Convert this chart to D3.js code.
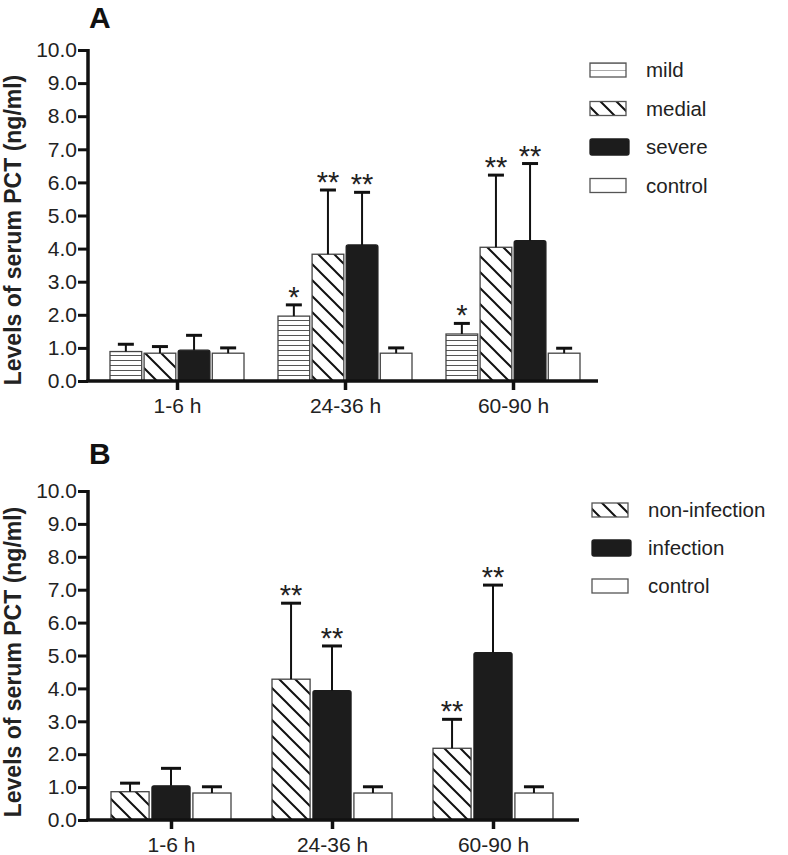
<!DOCTYPE html>
<html>
<head>
<meta charset="utf-8">
<script src="https://cdn.jsdelivr.net/npm/d3@7"></script>
<style>
  html, body { margin: 0; padding: 0; background: #fff; }
  svg { display: block; }
  text { font-family: "Liberation Sans", Arial, Helvetica, sans-serif; fill: #222; }
</style>
</head>
<body>
<svg id="chart" width="788" height="855"></svg>
<script>
// ---------- data ----------
const categories = ["1-6 h", "24-36 h", "60-90 h"];
const yTickValues = [0, 1, 2, 3, 4, 5, 6, 7, 8, 9, 10];
const yTickLabels = ["0.0", "1.0", "2.0", "3.0", "4.0", "5.0", "6.0", "7.0", "8.0", "9.0", "10.0"];
const yAxisTitle = "Levels of serum PCT (ng/ml)";

// Panel A
const seriesA = ["mild", "medial", "severe", "control"];
const meanA_mild    = [0.89, 1.96, 1.42];
const sdA_mild      = [0.22, 0.34, 0.32];
const starsA_mild   = ["", "*", "*"];
const meanA_medial  = [0.84, 3.83, 4.04];
const sdA_medial    = [0.20, 1.94, 2.18];
const starsA_medial = ["", "**", "**"];
const meanA_severe  = [0.93, 4.11, 4.24];
const sdA_severe    = [0.45, 1.59, 2.33];
const starsA_severe = ["", "**", "**"];
const meanA_control = [0.84, 0.84, 0.84];
const sdA_control   = [0.16, 0.16, 0.15];
const starsA_control = ["", "", ""];

// Panel B
const seriesB = ["non-infection", "infection", "control"];
const meanB_noninf  = [0.86, 4.28, 2.18];
const sdB_noninf    = [0.26, 2.31, 0.88];
const starsB_noninf = ["", "**", "**"];
const meanB_inf     = [1.04, 3.93, 5.09];
const sdB_inf       = [0.53, 1.36, 2.05];
const starsB_inf    = ["", "**", "**"];
const meanB_control = [0.82, 0.82, 0.82];
const sdB_control   = [0.19, 0.19, 0.19];
const starsB_control = ["", "", ""];

// ---------- styles per fill kind ----------
const fillKinds = {
  mild: "url(#hlines)",
  medial: "url(#hatch)",
  severe: "#1c1c1c",
  control: "#ffffff",
  "non-infection": "url(#hatch)",
  infection: "#1c1c1c"
};
const legendFill = {
  mild: "url(#hlinesL)",
  medial: "url(#hatchL)",
  severe: "#1c1c1c",
  control: "#ffffff",
  "non-infection": "url(#hatchL)",
  infection: "#1c1c1c"
};

const svg = d3.select("#chart");
const defs = svg.append("defs");

// horizontal lines pattern
const pH = defs.append("pattern").attr("id", "hlines").attr("patternUnits", "userSpaceOnUse")
  .attr("width", 10).attr("height", 5);
pH.append("rect").attr("width", 10).attr("height", 5).attr("fill", "#fff");
pH.append("line").attr("x1", 0).attr("x2", 10).attr("y1", 0.5).attr("y2", 0.5)
  .attr("stroke", "#555").attr("stroke-width", 1);

// diagonal hatch "\"
const pD = defs.append("pattern").attr("id", "hatch").attr("patternUnits", "userSpaceOnUse")
  .attr("width", 16).attr("height", 16);
pD.append("rect").attr("width", 16).attr("height", 16).attr("fill", "#fff");
pD.append("path").attr("d", "M0,0L16,16M-8,8L8,24M8,-8L24,8")
  .attr("stroke", "#111").attr("stroke-width", 2);

// legend-size patterns
const pHL = defs.append("pattern").attr("id", "hlinesL").attr("patternUnits", "objectBoundingBox")
  .attr("width", 1).attr("height", 0.5);
pHL.append("rect").attr("width", 40).attr("height", 7).attr("fill", "#fff");
pHL.append("line").attr("x1", 0).attr("x2", 40).attr("y1", 0).attr("y2", 0)
  .attr("stroke", "#555").attr("stroke-width", 1.2);

const pDL = defs.append("pattern").attr("id", "hatchL").attr("patternUnits", "userSpaceOnUse")
  .attr("width", 16).attr("height", 16).attr("patternTransform", "translate(3,0)");
pDL.append("rect").attr("width", 16).attr("height", 16).attr("fill", "#fff");
pDL.append("path").attr("d", "M0,0L16,16M-8,8L8,24M8,-8L24,8")
  .attr("stroke", "#111").attr("stroke-width", 2);

function drawPanel(cfg) {
  const g = svg.append("g");
  const y = d3.scaleLinear().domain([0, 10]).range([cfg.y0, cfg.y10]);
  const x0 = d3.scalePoint().domain(categories).range(cfg.xRange).padding(0.5);
  const x1 = d3.scaleBand().domain(cfg.series).range([-cfg.groupHalf, cfg.groupHalf]).paddingInner(0.07);
  const bw = x1.bandwidth();

  // title letter
  g.append("text").attr("x", 89).attr("y", cfg.titleY)
    .attr("font-size", 30).attr("font-weight", "bold").style("fill", "#111")
    .text(cfg.title);

  // y axis title
  g.append("text")
    .attr("transform", `translate(21,${cfg.labelCY}) rotate(-90)`)
    .attr("text-anchor", "middle").attr("font-size", 23).attr("font-weight", "bold")
    .text(yAxisTitle);

  // bars
  const rows = [];
  cfg.series.forEach((s, si) => {
    categories.forEach((c, ci) => {
      rows.push({ s, c, mean: cfg.means[si][ci], sd: cfg.sds[si][ci], star: cfg.stars[si][ci] });
    });
  });

  const bx = d => x0(d.c) + x1(d.s);

  g.selectAll("rect.bar").data(rows).enter().append("rect")
    .attr("class", "bar")
    .attr("x", bx).attr("width", bw)
    .attr("y", d => y(d.mean)).attr("height", d => y(0) - y(d.mean))
    .attr("fill", d => fillKinds[d.s])
    .attr("stroke", d => (d.s === "severe" || d.s === "infection") ? "#1c1c1c" : "#444")
    .attr("stroke-width", 1.3)
    .attr("rx", d => (d.s === "severe" || d.s === "infection") ? 2 : 0);

  // error bars
  g.selectAll("line.err").data(rows).enter().append("line")
    .attr("x1", d => bx(d) + bw / 2).attr("x2", d => bx(d) + bw / 2)
    .attr("y1", d => y(d.mean)).attr("y2", d => y(d.mean + d.sd))
    .attr("stroke", "#111").attr("stroke-width", 2);
  g.selectAll("line.cap").data(rows).enter().append("line")
    .attr("x1", d => bx(d) + bw / 2 - cfg.cap / 2).attr("x2", d => bx(d) + bw / 2 + cfg.cap / 2)
    .attr("y1", d => y(d.mean + d.sd)).attr("y2", d => y(d.mean + d.sd))
    .attr("stroke", "#111").attr("stroke-width", 3);

  // stars
  g.selectAll("text.star").data(rows.filter(d => d.star)).enter().append("text")
    .attr("x", d => bx(d) + bw / 2).attr("y", d => y(d.mean + d.sd) + 2)
    .attr("text-anchor", "middle").attr("font-size", 29)
    .text(d => d.star);

  // y axis
  const yAxis = d3.axisLeft(y).tickValues(yTickValues)
    .tickFormat((v, i) => yTickLabels[i]).tickSize(10).tickPadding(1);
  const ya = g.append("g").attr("transform", `translate(${cfg.axisX},0)`).call(yAxis);
  ya.select(".domain").attr("stroke", "#111").attr("stroke-width", 3.5)
    .attr("d", `M0,${cfg.y10 - 1}V${cfg.y0}`);
  ya.selectAll(".tick line").attr("stroke", "#111").attr("stroke-width", 3);
  ya.selectAll(".tick text").attr("font-size", 21).attr("fill", "#222")
    .attr("font-family", "'Liberation Sans', Arial, sans-serif");

  // x axis
  const xAxis = d3.axisBottom(x0).tickSize(9).tickPadding(8);
  const xa = g.append("g").attr("transform", `translate(0,${cfg.y0})`).call(xAxis);
  xa.select(".domain").attr("stroke", "#111").attr("stroke-width", 3.5)
    .attr("d", `M${cfg.axisX - 1.5},0H${cfg.axisEnd}`);
  xa.selectAll(".tick line").attr("stroke", "#111").attr("stroke-width", 3.5);
  xa.selectAll(".tick text").attr("font-size", 21).attr("fill", "#222")
    .attr("font-family", "'Liberation Sans', Arial, sans-serif");

  // legend
  const lg = g.append("g");
  cfg.series.forEach((s, i) => {
    const cy = cfg.legendY + i * cfg.legendStep;
    const dark = (s === "severe" || s === "infection");
    lg.append("rect")
      .attr("x", cfg.legendX).attr("y", cy - (dark ? 8 : 7))
      .attr("width", dark ? 39 : 36).attr("height", dark ? 16 : 14)
      .attr("rx", dark ? 2 : 0)
      .attr("fill", legendFill[s])
      .attr("stroke", dark ? "#1c1c1c" : "#555").attr("stroke-width", 1.3);
    lg.append("text").attr("x", cfg.legendTextX).attr("y", cy + 7)
      .attr("font-size", 20.5).text(s);
  });
}

drawPanel({
  title: "A", titleY: 28, labelCY: 230,
  series: seriesA,
  means: [meanA_mild, meanA_medial, meanA_severe, meanA_control],
  sds: [sdA_mild, sdA_medial, sdA_severe, sdA_control],
  stars: [starsA_mild, starsA_medial, starsA_severe, starsA_control],
  y0: 381, y10: 50, axisX: 88, axisEnd: 598,
  xRange: [93, 597], groupHalf: 67, cap: 16,
  legendX: 590, legendTextX: 646, legendY: 70, legendStep: 38.5
});

drawPanel({
  title: "B", titleY: 464, labelCY: 662,
  series: seriesB,
  means: [meanB_noninf, meanB_inf, meanB_control],
  sds: [sdB_noninf, sdB_inf, sdB_control],
  stars: [starsB_noninf, starsB_inf, starsB_control],
  y0: 820, y10: 491, axisX: 88, axisEnd: 579,
  xRange: [90.5, 573.5], groupHalf: 60, cap: 20,
  legendX: 592, legendTextX: 648, legendY: 510, legendStep: 38
});
</script>
</body>
</html>
